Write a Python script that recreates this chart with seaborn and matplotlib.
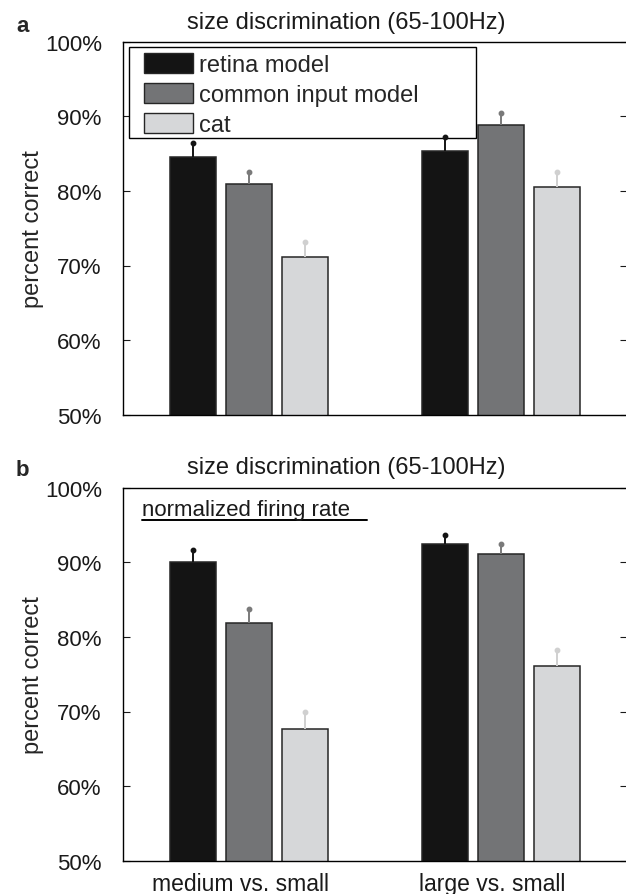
import numpy as np
import pandas as pd
import matplotlib
matplotlib.use("Agg")
import matplotlib.pyplot as plt
import matplotlib.transforms as mtransforms
from matplotlib.patches import Rectangle
import seaborn as sns

# ---- data ----
comparisons = ["medium vs. small", "large vs. small"]
models = ["retina model", "common input model", "cat"]

# panel a: size discrimination (65-100Hz)
a_retina = [84.6, 85.4]
a_common = [80.9, 88.9]
a_cat = [71.1, 80.5]
a_err_retina = [1.8, 1.8]
a_err_common = [1.7, 1.5]
a_err_cat = [2.1, 2.1]

# panel b: normalized firing rate
b_retina = [90.0, 92.4]
b_common = [81.8, 91.1]
b_cat = [67.6, 76.1]
b_err_retina = [1.6, 1.3]
b_err_common = [2.0, 1.4]
b_err_cat = [2.3, 2.1]

yticks = [50, 60, 70, 80, 90, 100]
ytick_labels = ["50%", "60%", "70%", "80%", "90%", "100%"]

bar_colors = ["#141414", "#737476", "#d6d7d9"]
err_colors = ["#141414", "#7a7a7a", "#d0d0d0"]

sns.set_theme(style="white")
plt.rcParams["font.family"] = ["Liberation Sans", "DejaVu Sans"]

W, H = 626, 895
fig = plt.figure(figsize=(W / 100, H / 100), dpi=100)

ax_left = 123.3 / W
ax_w = 503.6 / W
ax_h = 373.0 / H
axA = fig.add_axes([ax_left, 1 - 415.7 / H, ax_w, ax_h])
axB = fig.add_axes([ax_left, 1 - 861.7 / H, ax_w, ax_h])


def make_df(r, c, k):
    rows = []
    for m, vals in zip(models, [r, c, k]):
        for comp, v in zip(comparisons, vals):
            rows.append({"comparison": comp, "model": m, "value": v})
    return pd.DataFrame(rows)


def draw(ax, r, c, k, er, ec, ek):
    df = make_df(r, c, k)
    sns.barplot(data=df, x="comparison", y="value", hue="model",
                order=comparisons, hue_order=models, palette=bar_colors,
                width=0.668, gap=0.186, errorbar=None,
                edgecolor="#262626", linewidth=1.1, saturation=1,
                ax=ax, legend=True)
    bars = [p for p in ax.patches if p.get_width() > 0 and p.get_height() > 1]
    bars = sorted(bars, key=lambda p: p.get_x())
    errs = []
    cols = []
    for gi in range(len(comparisons)):
        for e, col in zip([er, ec, ek], err_colors):
            errs.append(e[gi])
            cols.append(col)
    for p, e, col in zip(bars, errs, cols):
        xc = p.get_x() + p.get_width() / 2
        top = p.get_y() + p.get_height()
        ax.errorbar([xc], [top], yerr=[[0], [e]], fmt="none", ecolor=col,
                    elinewidth=1.4, capsize=0, zorder=8)
        ax.plot([xc], [top + e], marker="o", ms=3.2, color=col, zorder=8)
    ax.set_xlim(-0.5, 1.5)
    ax.set_ylim(50, 100)
    ax.set_yticks(yticks)
    ax.set_yticklabels(ytick_labels)
    ax.set_xlabel("")
    ax.set_ylabel("percent correct", fontsize=17)
    ax.yaxis.set_label_coords(-0.158, 0.5)
    ax.tick_params(axis="y", direction="in", length=5, width=0.8, left=True,
                   right=True, labelright=False, labelsize=16, pad=15.5,
                   colors="#1a1a1a")
    ax.tick_params(axis="x", length=0, labelsize=16.5, pad=8,
                   colors="#1a1a1a")
    for s in ax.spines.values():
        s.set_visible(True)
        s.set_color("black")
        s.set_linewidth(1.0)


draw(axA, a_retina, a_common, a_cat, a_err_retina, a_err_common, a_err_cat)
draw(axB, b_retina, b_common, b_cat, b_err_retina, b_err_common, b_err_cat)

axA.set_xticklabels([])
shift = mtransforms.ScaledTranslation(-9 / 100, 0, fig.dpi_scale_trans)
for lab in axB.get_xticklabels():
    lab.set_transform(lab.get_transform() + shift)

# legend panel a (frame drawn separately)
handles, labels = axA.get_legend_handles_labels()
axA.get_legend().remove()


def ax_x(px):
    return (px - 123.3) / 503.6


def ax_y(py):
    return 1 - (py - 42.7) / 373.0


leg = axA.legend(handles, labels, loc="upper left",
                 bbox_to_anchor=(ax_x(144), ax_y(54.2)),
                 borderaxespad=0, borderpad=0, fontsize=17,
                 handlelength=2.06, handleheight=0.93, handletextpad=0.27,
                 labelspacing=0.29, frameon=False)
for hnd in leg.legend_handles:
    hnd.set_edgecolor("#262626")
    hnd.set_linewidth(1.0)
axA.add_patch(Rectangle((ax_x(129), ax_y(139.3)), ax_x(475.7) - ax_x(129),
                        ax_y(47.7) - ax_y(139.3), transform=axA.transAxes,
                        facecolor="none", edgecolor="black", lw=1.0,
                        zorder=6, clip_on=False))
bg = Rectangle((ax_x(129), ax_y(139.3)), ax_x(475.7) - ax_x(129),
               ax_y(47.7) - ax_y(139.3), transform=axA.transAxes,
               facecolor="white", edgecolor="none", zorder=5, clip_on=False)
axA.add_patch(bg)
leg.set_zorder(7)

axB.get_legend().remove()

# panel b annotation
axB.text(0.037, 0.942, "normalized firing rate", transform=axB.transAxes,
         fontsize=16, ha="left", va="center", color="#1a1a1a")
axB.plot([0.037, 0.4833], [0.9137, 0.9137], transform=axB.transAxes,
         color="black", lw=1.4, clip_on=False)

# titles and panel letters
fig.text(346 / W, 1 - 28.5 / H, "size discrimination (65-100Hz)", fontsize=17,
         ha="center", va="baseline", color="#1a1a1a")
fig.text(346 / W, 1 - 474 / H, "size discrimination (65-100Hz)", fontsize=17,
         ha="center", va="baseline", color="#1a1a1a")
fig.text(16 / W, 1 - 31.5 / H, "a", fontsize=16, fontweight="bold",
         ha="left", va="baseline")
fig.text(16 / W, 1 - 476 / H, "b", fontsize=16, fontweight="bold",
         ha="left", va="baseline")

fig.savefig("out.png", dpi=100)
